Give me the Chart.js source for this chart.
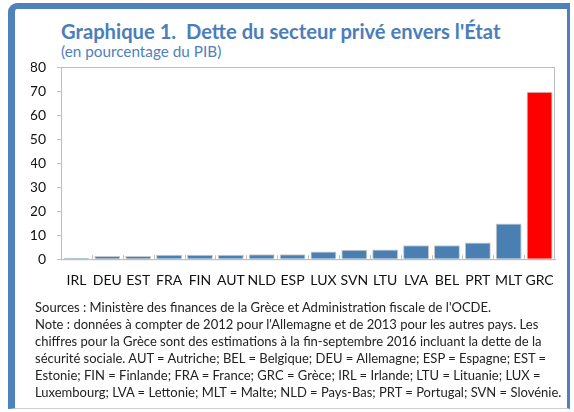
<!DOCTYPE html>
<html>
<head>
<meta charset="utf-8">
<script src="https://cdn.jsdelivr.net/npm/chart.js@4"></script>
<style>
  html, body { margin: 0; padding: 0; background: #fff; }
  body { width: 574px; height: 412px; position: relative; overflow: hidden; font-family: Lato, 'Open Sans', sans-serif; }
  #frame {
    position: absolute; left: 8px; top: 3px; width: 552px; height: 399px;
    border-left: 7px solid #4f81bd; border-top: 6px solid #4f81bd;
    border-right: 3px solid #4f81bd; border-bottom: 1px solid #d0d0d0;
    border-top-left-radius: 9px;
  }
  #title { position: absolute; left: 61px; top: 19px; font-size: 20.2px; font-weight: bold; color: #4a7ebb; white-space: nowrap; }
  #subtitle { position: absolute; left: 61px; top: 42px; font-size: 15.3px; color: #4f81bd; white-space: nowrap; }
  #notes { position: absolute; left: 35px; top: 299px; font-size: 13px; line-height: 17px; color: #222; white-space: nowrap; }
  #stats-chart { position: absolute; left: 0; top: 0; }
</style>
</head>
<body>
<div id="frame"></div>
<div id="title">Graphique 1.&nbsp; Dette du secteur privé envers l'État</div>
<div id="subtitle">(en pourcentage du PIB)</div>
<canvas id="stats-chart" width="574" height="412"></canvas>
<div id="notes">
Sources : Ministère des finances de la Grèce et Administration fiscale de l'OCDE.<br>
Note : données à compter de 2012 pour l'Allemagne et de 2013 pour les autres pays. Les<br>
chiffres pour la Grèce sont des estimations à la fin-septembre 2016 incluant la dette de la<br>
sécurité sociale. AUT = Autriche; BEL = Belgique; DEU = Allemagne; ESP = Espagne; EST =<br>
Estonie; FIN = Finlande; FRA = France; GRC = Grèce; IRL = Irlande; LTU = Lituanie; LUX =<br>
Luxembourg; LVA = Lettonie; MLT = Malte; NLD = Pays-Bas; PRT = Portugal; SVN = Slovénie.
</div>
<script>
'use strict';

const countries = [ 'IRL', 'DEU', 'EST', 'FRA', 'FIN', 'AUT', 'NLD', 'ESP', 'LUX', 'SVN', 'LTU', 'LVA', 'BEL', 'PRT', 'MLT', 'GRC', ];
const debtValues = [ 0.6, 1.3, 1.3, 1.9, 1.9, 1.9, 2.1, 2.1, 3.2, 3.9, 4.0, 5.8, 5.8, 6.9, 14.9, 69.7, ];
const yTicks = [ 0, 10, 20, 30, 40, 50, 60, 70, 80, ];

const BarBlue = '#4a7fb1';
const Highlight = '#ff0000';
const LineGray = '#bfbfbf';

// plot frame + little inward ticks between the bars
const frameLines = {
  id: 'frameLines',
  afterDatasetsDraw(chart) {
    const { ctx, chartArea, scales } = chart;
    ctx.save();
    ctx.strokeStyle = LineGray;
    ctx.lineWidth = 1;
    ctx.strokeRect(chartArea.left + 0.5, chartArea.top + 0.5, chartArea.width - 1, chartArea.height);
    const x = scales.x;
    for(let i = 1; i < countries.length; i++) {
      let px = Math.round((x.getPixelForValue(i - 1) + x.getPixelForValue(i)) / 2) + 0.5;
      ctx.beginPath();
      ctx.moveTo(px, chartArea.bottom);
      ctx.lineTo(px, chartArea.bottom - 4);
      ctx.stroke();
    }
    ctx.restore();
  },
};

let chart = document.getElementById('stats-chart');
let data = {
  labels: countries,
  datasets: [{
    data: debtValues,
    backgroundColor: countries.map(c => c === 'GRC' ? Highlight : BarBlue),
    borderColor: '#c8c8c8',
    borderWidth: 1,
    barPercentage: 0.84,
    categoryPercentage: 1,
  }],
};
let options = {
  responsive: false,
  animation: false,
  layout: {
    padding: { left: 31, right: 19, top: 67, bottom: 118 },
  },
  plugins: {
    legend: { display: false },
    tooltip: { enabled: false },
  },
  scales: {
    x: {
      grid: { display: false },
      border: { color: LineGray },
      ticks: { color: '#111', font: { family: 'Lato', size: 14 }, padding: 5, maxRotation: 0, autoSkip: false },
    },
    y: {
      min: 0,
      max: 80,
      afterBuildTicks(scale) { scale.ticks = yTicks.map(v => ({ value: v })); },
      grid: { drawOnChartArea: false, drawTicks: true, tickLength: 4, color: LineGray },
      border: { color: LineGray },
      ticks: { color: '#111', font: { family: 'Lato', size: 14 }, padding: 11 },
      afterFit(scale) { scale.width = 30; },
    },
  },
};
new Chart(chart, {
  type: 'bar',
  data: data,
  options: options,
  plugins: [ frameLines ],
});
</script>
</body>
</html>
